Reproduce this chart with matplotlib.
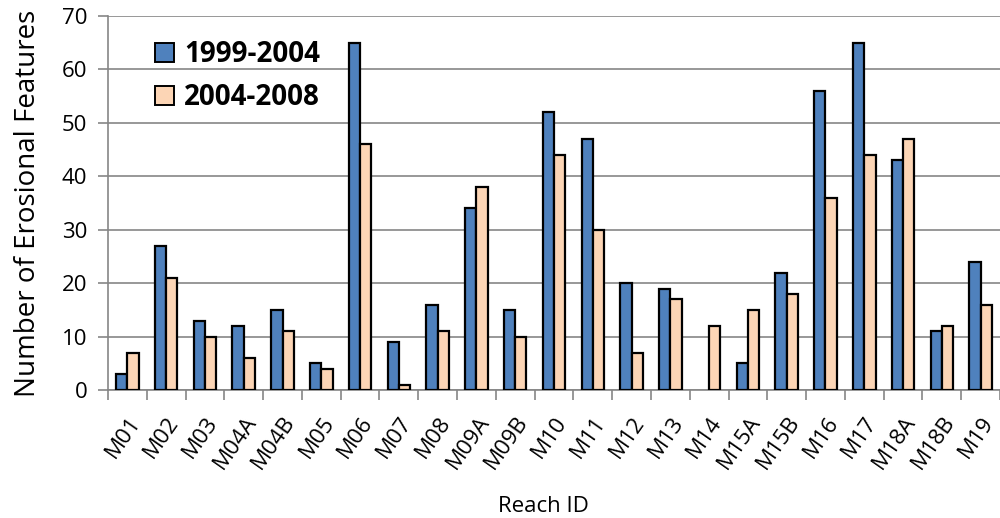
import numpy as np
import matplotlib.pyplot as plt
from matplotlib.patches import Patch

reaches = ['M01', 'M02', 'M03', 'M04A', 'M04B', 'M05', 'M06', 'M07', 'M08', 'M09A',
           'M09B', 'M10', 'M11', 'M12', 'M13', 'M14', 'M15A', 'M15B', 'M16', 'M17',
           'M18A', 'M18B', 'M19']
p1999_2004 = [3, 27, 13, 12, 15, 5, 65, 9, 16, 34, 15, 52, 47, 20, 19, 0, 5, 22, 56, 65, 43, 11, 24]
p2004_2008 = [7, 21, 10, 6, 11, 4, 46, 1, 11, 38, 10, 44, 30, 7, 17, 12, 15, 18, 36, 44, 47, 12, 16]

plt.rcParams['font.family'] = ['Open Sans', 'DejaVu Sans']

blue = '#4F81BD'
peach = '#FCD5B5'
grid_c = '#868686'

fig = plt.figure(figsize=(10, 5.18), dpi=100)
ax = fig.add_axes([0.108, 0.247, 0.892, 0.722])

x = np.arange(len(reaches))
w = 0.29
# no outline on empty bars
lw1 = [1.6 if v > 0 else 0 for v in p1999_2004]
lw2 = [1.6 if v > 0 else 0 for v in p2004_2008]
ax.bar(x - w / 2, p1999_2004, w, color=blue, edgecolor='black', linewidth=lw1, zorder=3)
ax.bar(x + w / 2, p2004_2008, w, color=peach, edgecolor='black', linewidth=lw2, zorder=3)

ax.set_ylim(0, 70)
ax.set_yticks(range(0, 71, 10))
# the original chart is cut off at the right edge, through the last bar
ax.set_xlim(-0.5, -0.5 + 892 / 39.27)
ax.yaxis.grid(True, color=grid_c, linewidth=1.2, zorder=0)
ax.set_axisbelow(True)

ax.set_xticks(x)
ax.set_xticklabels(reaches, rotation=55, ha='right', va='top', rotation_mode='anchor')
ax.set_xticks(np.arange(len(reaches) + 1) - 0.5, minor=True)
ax.tick_params(axis='x', which='major', length=0, pad=16, labelsize=16)
ax.tick_params(axis='x', which='minor', length=7, color=grid_c, width=1.2)
ax.tick_params(axis='y', length=7, color=grid_c, width=1.2, labelsize=16, pad=8)

for s in ['top', 'right']:
    ax.spines[s].set_visible(False)
for s in ['left', 'bottom']:
    ax.spines[s].set_color(grid_c)
    ax.spines[s].set_linewidth(1.2)

ax.set_ylabel('Number of Erosional Features', fontsize=20, labelpad=14)
fig.text(0.543, 0.022, 'Reach ID', ha='center', va='center', fontsize=16)

handles = [Patch(facecolor=blue, edgecolor='black', linewidth=1.4, label='1999-2004'),
           Patch(facecolor=peach, edgecolor='black', linewidth=1.4, label='2004-2008')]
ax.legend(handles=handles, loc='upper left', bbox_to_anchor=(0.04, 0.965), frameon=False,
          prop={'weight': 'bold', 'size': 20}, handlelength=0.7, handleheight=0.7,
          handletextpad=0.35, labelspacing=0.5, borderaxespad=0)

fig.savefig('out.png', dpi=100)
